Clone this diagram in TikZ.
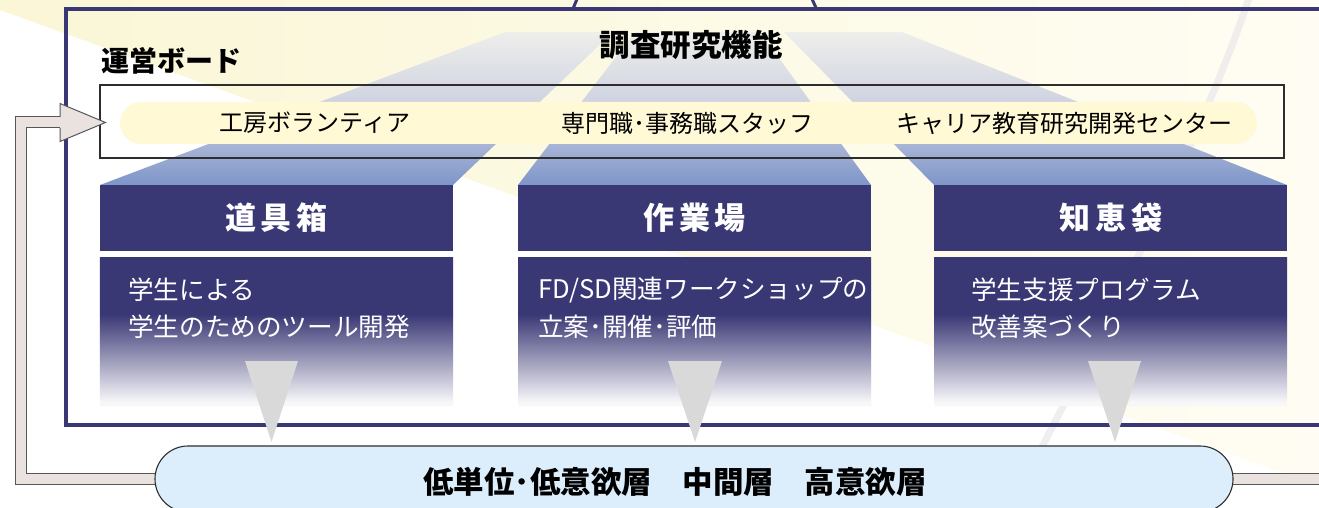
\documentclass[tikz,border=0pt]{standalone}
\usepackage{fontspec}
\setmainfont{Noto Sans CJK JP}
\newfontfamily\jp{Noto Sans CJK JP}
\definecolor{navy}{RGB}{57,55,116}
\definecolor{ray}{RGB}{250,246,214}
\definecolor{cream}{RGB}{255,253,243}
\definecolor{pillY}{RGB}{255,249,214}
\definecolor{pipecol}{RGB}{234,226,222}
\definecolor{botpill}{RGB}{220,238,252}
\definecolor{beamB}{RGB}{126,149,201}
\definecolor{beamM}{RGB}{204,209,224}
\definecolor{beamT}{RGB}{238,238,235}
\definecolor{tricol}{RGB}{217,217,217}
\definecolor{edge}{RGB}{45,45,45}
\pgfdeclareverticalshading{bodyshade}{100bp}{color(0bp)=(white); color(26bp)=(white!96!navy); color(56bp)=(navy); color(100bp)=(navy)}
\pgfdeclareverticalshading{beamshade}{100bp}{color(0bp)=(beamB); color(25bp)=(beamB); color(50bp)=(beamM); color(75bp)=(beamT); color(100bp)=(beamT)}
\newcommand{\mykern}{\kern5bp}
\begin{document}
\begin{tikzpicture}[x=1bp,y=-1bp,
  hdr/.style={fill=navy, minimum width=353bp, minimum height=66bp, inner sep=0pt, text=white,
    font=\jp\fontsize{31bp}{33bp}\selectfont\bfseries},
  bodybox/.style={minimum width=353bp, minimum height=147bp, inner sep=0pt, shading=bodyshade},
  bodytxt/.style={anchor=west, inner sep=0pt, text=white, font=\jp\fontsize{25.6bp}{30bp}\selectfont},
  pilltxt/.style={inner sep=0pt, font=\jp\fontsize{24bp}{27bp}\selectfont},
  beam/.style={shading=beamshade},
  funnel/.style={fill=tricol},
  frameline/.style={draw=navy, line width=4bp},
  pipe/.style={draw=edge!80, line width=1bp, double=pipecol, double distance=10bp},
]
\useasboundingbox (0,0) rectangle (1319,508);
\clip (0,0) rectangle (1319,508);
% background
\fill[white] (0,0) rectangle (1319,508);
\shade[left color=ray, middle color=ray!75!cream, right color=cream] (0,0) -- (1319,0) -- (1319,486) -- (0,10) -- cycle;
\draw[line width=7bp, color=black!8, opacity=.8] (1249,-2) .. controls (1215,100) and (1150,240) .. (1030,470);
% beams
\path[beam] (100,185) -- (453,185) -- (613,32) -- (505,32) -- cycle;
\path[beam] (518,185) -- (871,185) -- (760,32) -- (635,32) -- cycle;
\path[beam] (934,185) -- (1287,185) -- (902,32) -- (784,32) -- cycle;
% top trapezoid and outer frame
\draw[frameline, line width=3bp] (577,-1) -- (572.5,10);
\draw[frameline, line width=3bp] (812,-1) -- (817,10);
\draw[frameline] (65.5,9.5) rectangle (1340,425);
% titles
\node[inner sep=0pt, font=\jp\fontsize{30.5bp}{33bp}\selectfont\bfseries] (title) at (691,45) {調査研究機能};
\node[inner sep=0pt, anchor=west, font=\jp\fontsize{28bp}{30bp}\selectfont\bfseries] (boardlbl) at (101,61) {運営ボード};
% board
\node[draw=edge, line width=1.1bp, minimum width=1184bp, minimum height=73bp, inner sep=0pt] (board) at (692,121.5) {};
\node[fill=pillY, rounded corners=21bp, minimum width=1137bp, minimum height=42bp, inner sep=0pt] (pill) at (688.5,123) {};
\node[pilltxt] (p1) at (315,123) {工房ボランティア};
\node[pilltxt] (p2) at (687,123) {専門職･事務職スタッフ};
\node[pilltxt] (p3) at (1064,123) {キャリア教育研究開発センター};
% boxes
\node[hdr] (h1) at (276.5,218) {道\mykern 具\mykern 箱};
\node[hdr] (h2) at (694.5,218) {作\mykern 業\mykern 場};
\node[hdr] (h3) at (1110.5,218) {知\mykern 恵\mykern 袋};
\node[bodybox] (b1) at (276.5,331.5) {};
\node[bodybox] (b2) at (694.5,331.5) {};
\node[bodybox] (b3) at (1110.5,331.5) {};
\node[bodytxt] (t1a) at (128,290) {学生による};
\node[bodytxt] (t1b) at (128,327) {学生のためのツール開発};
\node[bodytxt] (t2a) at (538,290) {FD/SD関連ワークショップの};
\node[bodytxt] (t2b) at (538,327) {立案･開催･評価};
\node[bodytxt] (t3a) at (971,290) {学生支援プログラム};
\node[bodytxt] (t3b) at (971,327) {改善案づくり};
% funnels
\fill[funnel] (245,361) -- (298,361) -- (271.5,442) -- cycle;
\fill[funnel] (668,361) -- (722,361) -- (695,442) -- cycle;
\fill[funnel] (1088,361) -- (1141,361) -- (1115,442) -- cycle;
% feedback pipe
\coordinate (pr) at (1330,479);
\coordinate (pl) at (21,479);
\coordinate (pt) at (21,122.5);
\coordinate (pe) at (63,122.5);
\draw[pipe] (pr) -- (pl) -- (pt) -- (pe);
\fill[pipecol] (60,103.5) -- (105.5,122.5) -- (60,141.5) -- cycle;
\draw[edge!80, line width=1bp, line join=miter] (60,117) -- (60,103.5) -- (105.5,122.5) -- (60,141.5) -- (60,128);
% bottom pill
\node[draw=edge, line width=1.1bp, fill=botpill, rounded corners=33bp, minimum width=1078bp, minimum height=66bp, inner sep=0pt] (low) at (694,479) {};
\node[inner sep=0pt, font=\jp\fontsize{30.5bp}{32bp}\selectfont\bfseries] (lowtxt) at (675,482) {低単位･低意欲層　中間層　高意欲層};
\end{tikzpicture}
\end{document}
